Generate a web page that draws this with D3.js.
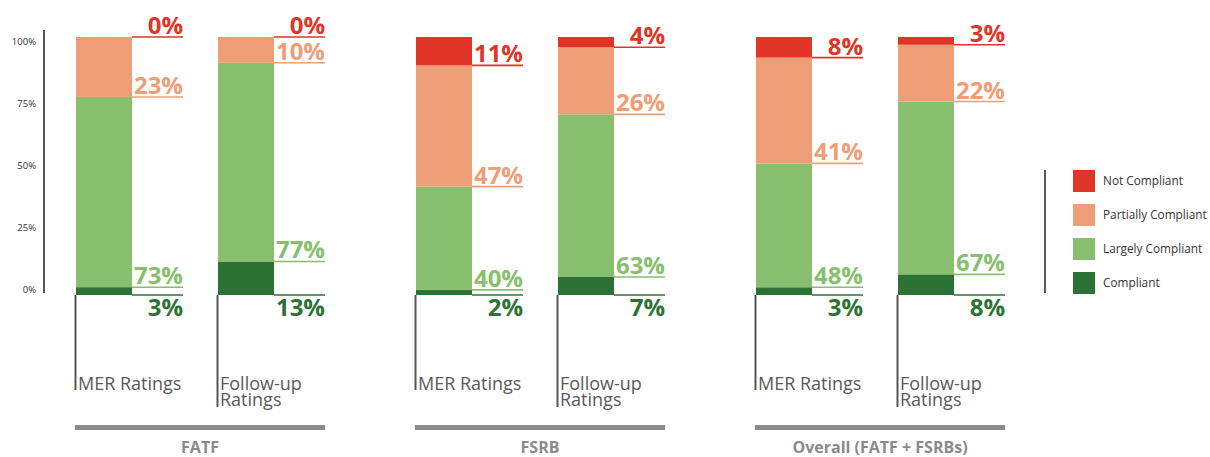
<!DOCTYPE html>
<html>
<head>
<meta charset="utf-8">
<script src="https://cdn.jsdelivr.net/npm/d3@7"></script>
<style>
  body { margin: 0; background: #fff; }
  svg { font-family: 'Open Sans', sans-serif; }
</style>
</head>
<body>
<svg id="chart" width="1210" height="457"></svg>
<script>
// Data
const groups = ['FATF', 'FSRB', 'Overall (FATF + FSRBs)'];
const phases = ['MER', 'Follow-up'];
const phaseLabels = [['MER Ratings'], ['Follow-up', 'Ratings']];
const categories = ['Compliant', 'Largely Compliant', 'Partially Compliant', 'Not Compliant'];
const legendOrder = ['Not Compliant', 'Partially Compliant', 'Largely Compliant', 'Compliant'];
// one value per bar: FATF MER, FATF FU, FSRB MER, FSRB FU, Overall MER, Overall FU
const compliant = [3, 13, 2, 7, 3, 8];
const largelyCompliant = [73, 77, 40, 63, 48, 67];
const partiallyCompliant = [23, 10, 47, 26, 41, 22];
const notCompliant = [0, 0, 11, 4, 8, 3];
const yTicks = [0, 25, 50, 75, 100];

const colors = {
  'Not Compliant': '#e03426',
  'Partially Compliant': '#ee9e76',
  'Largely Compliant': '#87bf6e',
  'Compliant': '#2b7234'
};

// Build rows
const rows = [];
groups.forEach((g, gi) => {
  phases.forEach((p, pi) => {
    const i = gi * 2 + pi;
    rows.push({
      group: g, phase: p, pi: pi,
      'Compliant': compliant[i],
      'Largely Compliant': largelyCompliant[i],
      'Partially Compliant': partiallyCompliant[i],
      'Not Compliant': notCompliant[i]
    });
  });
});

const svg = d3.select('#chart');

// Scales
const x0 = d3.scaleBand().domain(groups).range([75, 1005]).paddingInner(90 / 340);
const x1 = d3.scaleBand().domain(phases).range([0, 198]).paddingInner(86 / 142);
const y = d3.scaleLinear().domain([0, 1]).range([295, 37]);
const yAxisScale = d3.scaleLinear().domain([0, 100]).range([289, 41]);

const barX = d => x0(d.group) + x1(d.phase) + 1;
const bw = x1.bandwidth();

// Y axis
const yAxis = svg.append('g')
  .attr('transform', 'translate(44,0)')
  .call(d3.axisLeft(yAxisScale).tickValues(yTicks).tickFormat(d => d + '%').tickSize(0).tickPadding(8));
yAxis.select('.domain').remove();
yAxis.selectAll('text').attr('font-size', '9.5px').attr('fill', '#333').attr('font-family', "'Open Sans', sans-serif");
svg.append('line')
  .attr('x1', 44).attr('x2', 44).attr('y1', 30).attr('y2', 293)
  .attr('stroke', '#555').attr('stroke-width', 2);

// Stack
const stack = d3.stack().keys(categories).offset(d3.stackOffsetExpand);
const series = stack(rows);

const layers = svg.append('g').selectAll('g')
  .data(series)
  .join('g')
  .attr('fill', s => colors[s.key]);

layers.selectAll('rect')
  .data(s => s)
  .join('rect')
  .attr('x', d => barX(d.data))
  .attr('width', bw)
  .attr('y', d => y(d[1]))
  .attr('height', d => y(d[0]) - y(d[1]));

// Value labels with underline
const labelLen = 51;
series.forEach(s => {
  const col = colors[s.key];
  const g = svg.append('g');
  s.forEach(d => {
    const xr = barX(d.data) + bw;
    const yl = y(d[0]);
    g.append('line')
      .attr('x1', xr).attr('x2', xr + labelLen)
      .attr('y1', yl).attr('y2', yl)
      .attr('stroke', col).attr('stroke-width', 1.6);
    g.append('text')
      .attr('x', xr + labelLen)
      .attr('y', s.key === 'Compliant' ? yl + 21 : yl - 3)
      .attr('text-anchor', 'end')
      .attr('font-size', '24px')
      .attr('font-weight', 700)
      .attr('fill', col)
      .text(d.data[s.key] + '%');
  });
});

// Category lines and labels
rows.forEach(d => {
  const xl = barX(d) - 0.5;
  const lines = phaseLabels[d.pi];
  const lineEnd = d.pi === 0 ? 390 : 407;
  svg.append('line')
    .attr('x1', xl).attr('x2', xl).attr('y1', 295).attr('y2', lineEnd)
    .attr('stroke', '#555').attr('stroke-width', 2);
  const t = svg.append('text')
    .attr('x', xl + 2.5)
    .attr('y', 390)
    .attr('font-size', '18px')
    .attr('fill', '#595959');
  lines.forEach((l, li) => {
    t.append('tspan').attr('x', xl + 2.5).attr('dy', li === 0 ? 0 : 16).text(l);
  });
});

// Group brackets
groups.forEach(g => {
  svg.append('rect')
    .attr('x', x0(g)).attr('y', 425)
    .attr('width', x0.bandwidth()).attr('height', 5)
    .attr('fill', '#8a8a8a');
  svg.append('text')
    .attr('x', x0(g) + x0.bandwidth() / 2)
    .attr('y', 453)
    .attr('text-anchor', 'middle')
    .attr('font-size', '16px')
    .attr('font-weight', 700)
    .attr('fill', '#8a8a8a')
    .text(g);
});

// Legend
svg.append('line')
  .attr('x1', 1045).attr('x2', 1045).attr('y1', 170).attr('y2', 293)
  .attr('stroke', '#222').attr('stroke-width', 1.5);
const legend = svg.append('g').selectAll('g')
  .data(legendOrder)
  .join('g')
  .attr('transform', (d, i) => `translate(1073,${170 + i * 34})`);
legend.append('rect')
  .attr('width', 22).attr('height', 22)
  .attr('fill', d => colors[d]);
legend.append('text')
  .attr('x', 30).attr('y', 11).attr('dy', '0.35em')
  .attr('font-size', '11.8px')
  .attr('fill', '#333')
  .text(d => d);
</script>
</body>
</html>
